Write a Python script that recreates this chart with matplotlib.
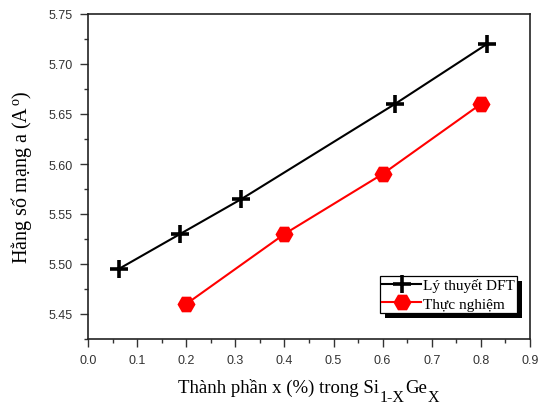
import matplotlib
matplotlib.use("Agg")
import matplotlib.pyplot as plt
from matplotlib.ticker import MultipleLocator
from matplotlib.transforms import IdentityTransform
import matplotlib.patheffects as pe

plt.rcParams['mathtext.fontset'] = 'custom'
plt.rcParams['mathtext.rm'] = 'Liberation Serif'
plt.rcParams['mathtext.it'] = 'Liberation Serif:italic'

dft_x = [0.0625, 0.1875, 0.3125, 0.625, 0.8125]
dft_y = [5.495, 5.530, 5.565, 5.660, 5.720]
exp_x = [0.2, 0.4, 0.6, 0.8]
exp_y = [5.460, 5.530, 5.590, 5.660]
dft_label = "Lý thuyết DFT"
exp_label = "Thực nghiệm"
xticks = [0.0, 0.1, 0.2, 0.3, 0.4, 0.5, 0.6, 0.7, 0.8, 0.9]
yticks = [5.45, 5.50, 5.55, 5.60, 5.65, 5.70, 5.75]
xlabel_parts = [("Thành phần x (%) trong Si", 0), ("1-X", 1), ("Ge", 0), ("X", 1)]
ylabel = "Hằng số mạng a (A$^{\\,\\mathrm{o}}$)"

W, H = 540, 406
fig = plt.figure(figsize=(W / 100, H / 100), dpi=100)
ax = fig.add_axes([88 / W, 66 / H, 442 / W, 325 / H])

ax.plot(dft_x, dft_y, color='black', lw=1.5, marker='+', markersize=13,
        markeredgewidth=2.6, label=dft_label)
ax.plot(exp_x, exp_y, color='#ff0000', lw=1.5, marker='H', markersize=13,
        markeredgewidth=0, label=exp_label)

ax.set_xlim(0.0, 0.9)
ax.set_ylim(5.425, 5.75)
ax.set_xticks(xticks)
ax.set_xticklabels([f"{v:.1f}" for v in xticks])
ax.set_yticks(yticks)
ax.set_yticklabels([f"{v:.2f}" for v in yticks])
ax.xaxis.set_minor_locator(MultipleLocator(0.05))
ax.yaxis.set_minor_locator(MultipleLocator(0.025))

ax.tick_params(which='both', direction='out', top=False, right=False,
               labelsize=9, color='#333333', labelcolor='#333333', pad=5)
ax.tick_params(which='major', length=6, width=1)
ax.tick_params(which='minor', length=3, width=1)
for lab in ax.get_xticklabels() + ax.get_yticklabels():
    lab.set_family('Liberation Sans')
for s in ax.spines.values():
    s.set_linewidth(1.2)
    s.set_color('#222222')

# y label
fig.text(22 / W, (66 + 325 / 2) / H, ylabel, rotation=90, ha='center',
         va='center', family='Liberation Serif', fontsize=14.5)

leg = ax.legend(loc='lower right', bbox_to_anchor=((517 - 88) / 442, (340 - 314) / 325),
                prop={'family': 'Liberation Serif', 'size': 11},
                fancybox=False, framealpha=1, edgecolor='black', borderpad=0.15,
                handlelength=2.5, handletextpad=0.15, labelspacing=0.3,
                borderaxespad=0.0, markerscale=1.0)
leg.get_frame().set_linewidth(0.9)
leg.get_frame().set_path_effects([
    pe.SimplePatchShadow(offset=(3.5, -3.5), shadow_rgbFace='black', alpha=1.0),
    pe.Normal()])

# x label built from pieces (large subscripts)
fig.canvas.draw()
r = fig.canvas.get_renderer()
texts = []
for s, sub in xlabel_parts:
    t = fig.text(0, 0, s, transform=IdentityTransform(), ha='left', va='baseline',
                 family='Liberation Serif', fontsize=11.5 if sub else 13.5)
    texts.append((t, sub))
widths = [t.get_window_extent(r).width for t, _ in texts]
gap = 1.5
total = sum(widths) + gap * 2
x = (88 + 442 / 2) - total / 2
for (t, sub), w in zip(texts, widths):
    if sub:
        t.set_position((x + 0.5, 4))
        x += w + gap
    else:
        t.set_position((x, 13))
        x += w

fig.savefig("out.png", dpi=100)
